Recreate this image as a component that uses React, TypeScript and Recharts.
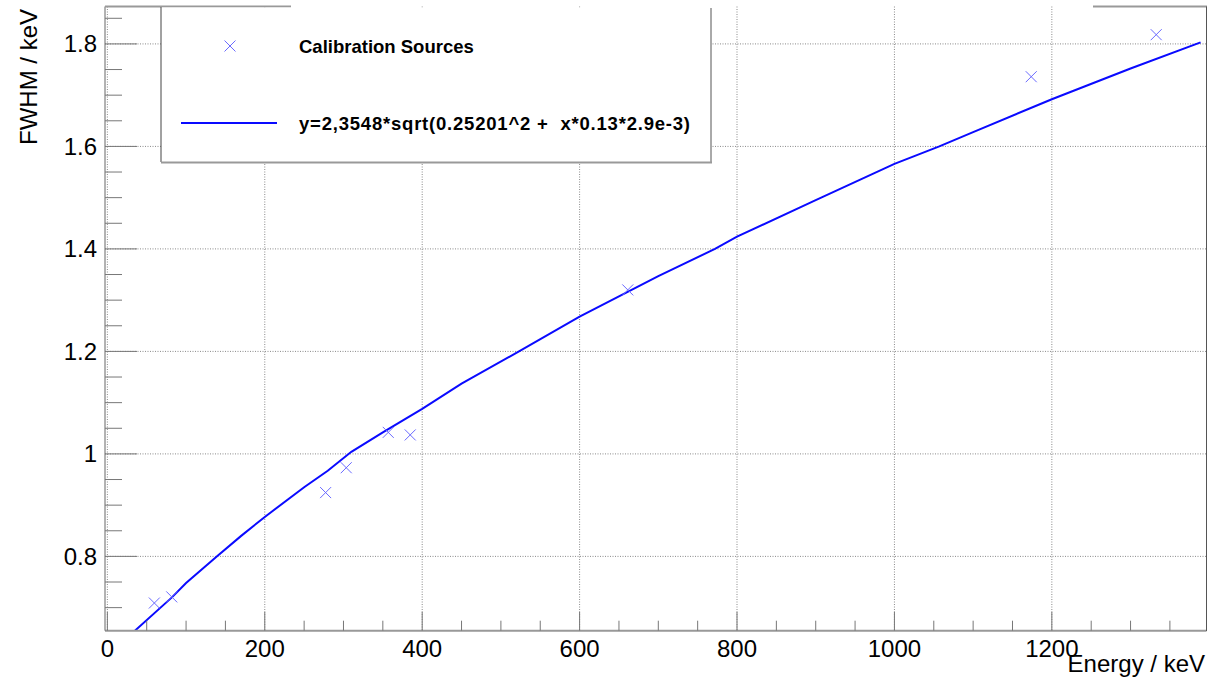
import { ComposedChart, Line, Scatter, XAxis, YAxis, CartesianGrid } from 'recharts'

// calibration source peaks
const sourceEnergy = [59.7, 81.8, 277.3, 303.5, 356.9, 384.8, 661.2, 1173.8, 1332.6]
const sourceFwhm = [0.709, 0.721, 0.9245, 0.973, 1.042, 1.037, 1.32, 1.736, 1.818]

// fitted curve, sampled from the drawn line
const fitEnergy = [35, 82, 100, 139, 170, 200, 250, 280, 310, 350, 400, 450, 523, 600, 700, 772, 800, 900, 1000, 1057, 1100, 1200, 1300, 1389]
const fitFwhm = [0.655, 0.72, 0.748, 0.8, 0.84, 0.877, 0.935, 0.967, 1.004, 1.042, 1.088, 1.137, 1.2, 1.268, 1.347, 1.4, 1.424, 1.495, 1.566, 1.6, 1.628, 1.692, 1.752, 1.803]

const xTicks = [0, 50, 100, 150, 200, 250, 300, 350, 400, 450, 500, 550, 600, 650, 700, 750, 800, 850, 900, 950, 1000, 1050, 1100, 1150, 1200, 1250, 1300, 1350]
const xMajor = [0, 200, 400, 600, 800, 1000, 1200]
const yTicks = [0.7, 0.75, 0.8, 0.85, 0.9, 0.95, 1, 1.05, 1.1, 1.15, 1.2, 1.25, 1.3, 1.35, 1.4, 1.45, 1.5, 1.55, 1.6, 1.65, 1.7, 1.75, 1.8, 1.85]
const yMajor = [0.8, 1, 1.2, 1.4, 1.6, 1.8]

const sources = sourceEnergy.map((e, i) => ({ e, fwhm: sourceFwhm[i] }))
const fit = fitEnergy.map((e, i) => ({ e, fwhm: fitFwhm[i] }))

const FONT = 'Liberation Sans, Arial, Helvetica, sans-serif'
const TICK = '#777'
const MARKER = '#6a6aff'
const LINE = '#0a0aff'

function XTick(props: any) {
  const { x, y, payload } = props
  const major = xMajor.includes(payload.value)
  return (
    <g>
      <line x1={x} y1={y} x2={x} y2={y - (major ? 19 : 10)} stroke={TICK} strokeWidth={1} />
      {major && (
        <text x={x} y={y + 26.5} textAnchor="middle" fontSize={24} fontFamily={FONT} fill="#000">
          {payload.value}
        </text>
      )}
    </g>
  )
}

function YTick(props: any) {
  const { x, y, payload } = props
  const major = yMajor.some(v => Math.abs(v - payload.value) < 1e-6)
  return (
    <g>
      <line x1={x} y1={y} x2={x + (major ? 32 : 17)} y2={y} stroke={TICK} strokeWidth={1} />
      {major && (
        <text x={x - 8} y={y + 8.5} textAnchor="end" fontSize={24} fontFamily={FONT} fill="#000">
          {payload.value}
        </text>
      )}
    </g>
  )
}

function Cross(props: any) {
  const { cx, cy } = props
  const s = 5.5
  return (
    <path
      d={`M${cx - s},${cy - s}L${cx + s},${cy + s}M${cx + s},${cy - s}L${cx - s},${cy + s}`}
      stroke={MARKER}
      strokeWidth={1}
      fill="none"
    />
  )
}

export default function App() {
  return (
    <div style={{ position: 'absolute', left: 0, top: 0, width: 1211, height: 686, background: '#fff' }}>
      <ComposedChart width={1211} height={686} margin={{ top: 6.5, right: 4.5, bottom: 0, left: 0 }}>
        <CartesianGrid
          stroke="#8a8a8a"
          strokeDasharray="1 1.5"
          horizontalValues={yMajor}
          verticalValues={xMajor}
        />
        <XAxis
          type="number"
          dataKey="e"
          domain={[-3, 1396.5]}
          allowDataOverflow
          ticks={xTicks}
          interval={0}
          height={55.3}
          tickSize={0}
          tickMargin={0}
          tick={<XTick />}
          axisLine={{ stroke: '#999', strokeWidth: 2 }}
        />
        <YAxis
          type="number"
          dataKey="fwhm"
          domain={[0.655, 1.873]}
          allowDataOverflow
          ticks={yTicks}
          interval={0}
          width={105}
          tickSize={0}
          tickMargin={0}
          tick={<YTick />}
          axisLine={{ stroke: '#666', strokeWidth: 1 }}
        />
        <Line
          data={fit}
          dataKey="fwhm"
          type="linear"
          stroke={LINE}
          strokeWidth={2}
          dot={false}
          isAnimationActive={false}
        />
        <Scatter data={sources} dataKey="fwhm" shape={<Cross />} isAnimationActive={false} />
      </ComposedChart>

      <svg width={1211} height={686} style={{ position: 'absolute', left: 0, top: 0, pointerEvents: 'none' }}>
        {/* frame top and right */}
        <line x1={105} y1={6.5} x2={291} y2={6.5} stroke="#999" strokeWidth={2} />
        <line x1={1093} y1={6.5} x2={1207} y2={6.5} stroke="#999" strokeWidth={2} />
        <line x1={1206.5} y1={6.5} x2={1206.5} y2={631} stroke="#555" strokeWidth={1} />

        {/* legend box */}
        <rect x={161} y={7.5} width={550} height={155} fill="#fff" />
        <line x1={161} y1={7} x2={161} y2={162} stroke="#444" strokeWidth={1} />
        <line x1={711} y1={8} x2={711} y2={162} stroke="#555" strokeWidth={1} />
        <line x1={161} y1={162.5} x2={712} y2={162.5} stroke="#999" strokeWidth={2} />
        <path d="M224.5,40.5L235.5,51.5M235.5,40.5L224.5,51.5" stroke={MARKER} strokeWidth={1} fill="none" />
        <text x={299} y={52.5} fontSize={18.5} fontWeight="bold" fontFamily={FONT} fill="#000">
          Calibration Sources
        </text>
        <line x1={181} y1={123} x2={277} y2={123} stroke={LINE} strokeWidth={2} />
        <text
          x={299}
          y={129.5}
          fontSize={18.5}
          fontWeight="bold"
          fontFamily={FONT}
          fill="#000"
          xmlSpace="preserve"
          textLength={391}
          lengthAdjust="spacing"
        >
          y=2,3548*sqrt(0.25201^2 +  x*0.13*2.9e-3)
        </text>

        {/* axis titles */}
        <text x={1205} y={672} textAnchor="end" fontSize={24} fontFamily={FONT} fill="#000">
          Energy / keV
        </text>
        <text
          x={37}
          y={9}
          textAnchor="end"
          fontSize={24}
          fontFamily={FONT}
          fill="#000"
          transform="rotate(-90 37 9)"
        >
          FWHM / keV
        </text>
      </svg>
    </div>
  )
}
